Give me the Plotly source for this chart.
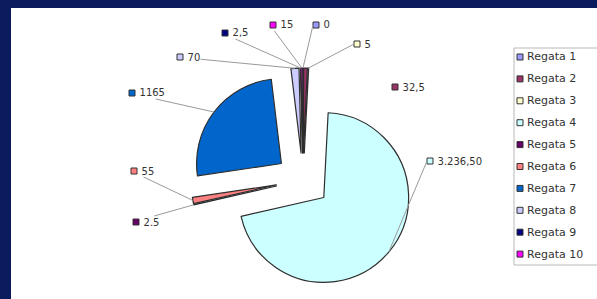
import math
import plotly.graph_objects as go

# ---------------- data ----------------
labels = ["Regata 1", "Regata 2", "Regata 3", "Regata 4", "Regata 5",
          "Regata 6", "Regata 7", "Regata 8", "Regata 9", "Regata 10"]
values = [0, 32.5, 5, 3236.5, 2.5, 55, 1165, 70, 2.5, 15]
value_text = ["0", "32,5", "5", "3.236,50", "2.5", "55", "1165", "70", "2,5", "15"]
colors = ["#9999FF", "#993366", "#FFFFCC", "#CCFFFF", "#660066",
          "#FF8080", "#0066CC", "#CCCCFF", "#000080", "#FF00FF"]

# ---------------- layout constants (pixels) ----------------
W, H = 597, 299
CX, CY = 303, 180          # pie centre
REACH = 112                # centre -> outer edge of a pulled slice
PULL = 0.32

# data-label positions: (left edge x, centre y) and whether a leader line is drawn
label_pos = [(313, 25), (392, 87), (354, 44), (427, 161), (133, 222),
             (131, 171), (129, 93), (177, 57), (222, 33), (270, 25)]
has_leader = [True, False, True, True, True, True, True, True, True, True]

LEG_X0, LEG_Y0, LEG_Y1 = 514, 48, 265
LEG_ROW0, LEG_STEP = 57, 21.9

TEXT_FONT = "DejaVu Sans, Liberation Sans, Arial, sans-serif"
NAVY = "#0a1b5e"


def px(x, y):
    return x / W, 1 - y / H


fig = go.Figure()
fig.add_trace(go.Pie(
    labels=labels, values=values, sort=False, direction="clockwise", rotation=0,
    pull=[PULL] * len(values), textinfo="none", hoverinfo="skip", showlegend=False,
    marker=dict(colors=colors, line=dict(color="#2e2e2e", width=1.2)),
    domain=dict(x=[(CX - REACH) / W, (CX + REACH) / W],
                y=[1 - (CY + REACH) / H, 1 - (CY - REACH) / H]),
))

shapes = []
annotations = []

# frame
shapes.append(dict(type="rect", xref="paper", yref="paper", x0=0, x1=11 / W, y0=0, y1=1,
                   fillcolor=NAVY, line=dict(width=0), layer="above"))
shapes.append(dict(type="rect", xref="paper", yref="paper", x0=0, x1=1, y0=1 - 8 / H, y1=1,
                   fillcolor=NAVY, line=dict(width=0), layer="above"))

# data labels
total = sum(values)
cum = 0.0
for i, v in enumerate(values):
    mid = (cum + v / 2) / total * 2 * math.pi
    cum += v
    hx = CX + REACH * math.sin(mid)
    hy = CY - REACH * math.cos(mid)
    lx, ly = label_pos[i]
    # key square
    x0, y0 = px(lx, ly + 3)
    x1, y1 = px(lx + 6, ly - 3)
    shapes.append(dict(type="rect", xref="paper", yref="paper", x0=x0, x1=x1, y0=y0, y1=y1,
                       fillcolor=colors[i], line=dict(color="#333333", width=1), layer="above"))
    txt = "\u00a0\u00a0\u00a0" + value_text[i]
    if has_leader[i]:
        ax_, ay_ = px(hx, hy)
        annotations.append(dict(
            x=ax_, y=ay_, xref="paper", yref="paper", text=txt,
            showarrow=True, arrowhead=0, arrowwidth=1, arrowcolor="#9a9a9a", standoff=0,
            ax=lx - hx, ay=ly - hy, xanchor="left", yanchor="middle", borderpad=0,
            font=dict(family=TEXT_FONT, size=10, color="#333333")))
    else:
        tx, ty = px(lx, ly)
        annotations.append(dict(
            x=tx, y=ty, xref="paper", yref="paper", text=txt, showarrow=False,
            xanchor="left", yanchor="middle", borderpad=0,
            font=dict(family=TEXT_FONT, size=10, color="#333333")))

# legend
lx0, ly0 = px(LEG_X0, LEG_Y1)
lx1, ly1 = px(W + 5, LEG_Y0)
shapes.append(dict(type="rect", xref="paper", yref="paper", x0=lx0, x1=lx1, y0=ly0, y1=ly1,
                   fillcolor="white", line=dict(color="#b8b8b8", width=1), layer="below"))
for i, name in enumerate(labels):
    yy = LEG_ROW0 + i * LEG_STEP
    x0, y0 = px(LEG_X0 + 3, yy + 3)
    x1, y1 = px(LEG_X0 + 9, yy - 3)
    shapes.append(dict(type="rect", xref="paper", yref="paper", x0=x0, x1=x1, y0=y0, y1=y1,
                       fillcolor=colors[i], line=dict(color="#333333", width=1), layer="above"))
    tx, ty = px(LEG_X0 + 12, yy)
    annotations.append(dict(
        x=tx, y=ty, xref="paper", yref="paper", text=name, showarrow=False,
        xanchor="left", yanchor="middle", borderpad=0,
        font=dict(family=TEXT_FONT, size=11, color="#333333")))

fig.update_layout(
    width=W, height=H, margin=dict(l=0, r=0, t=0, b=0),
    paper_bgcolor="white", plot_bgcolor="white",
    shapes=shapes, annotations=annotations, showlegend=False,
)

fig.write_html("out.html", config={"displayModeBar": False},
               post_script="document.body.style.margin='0';")
